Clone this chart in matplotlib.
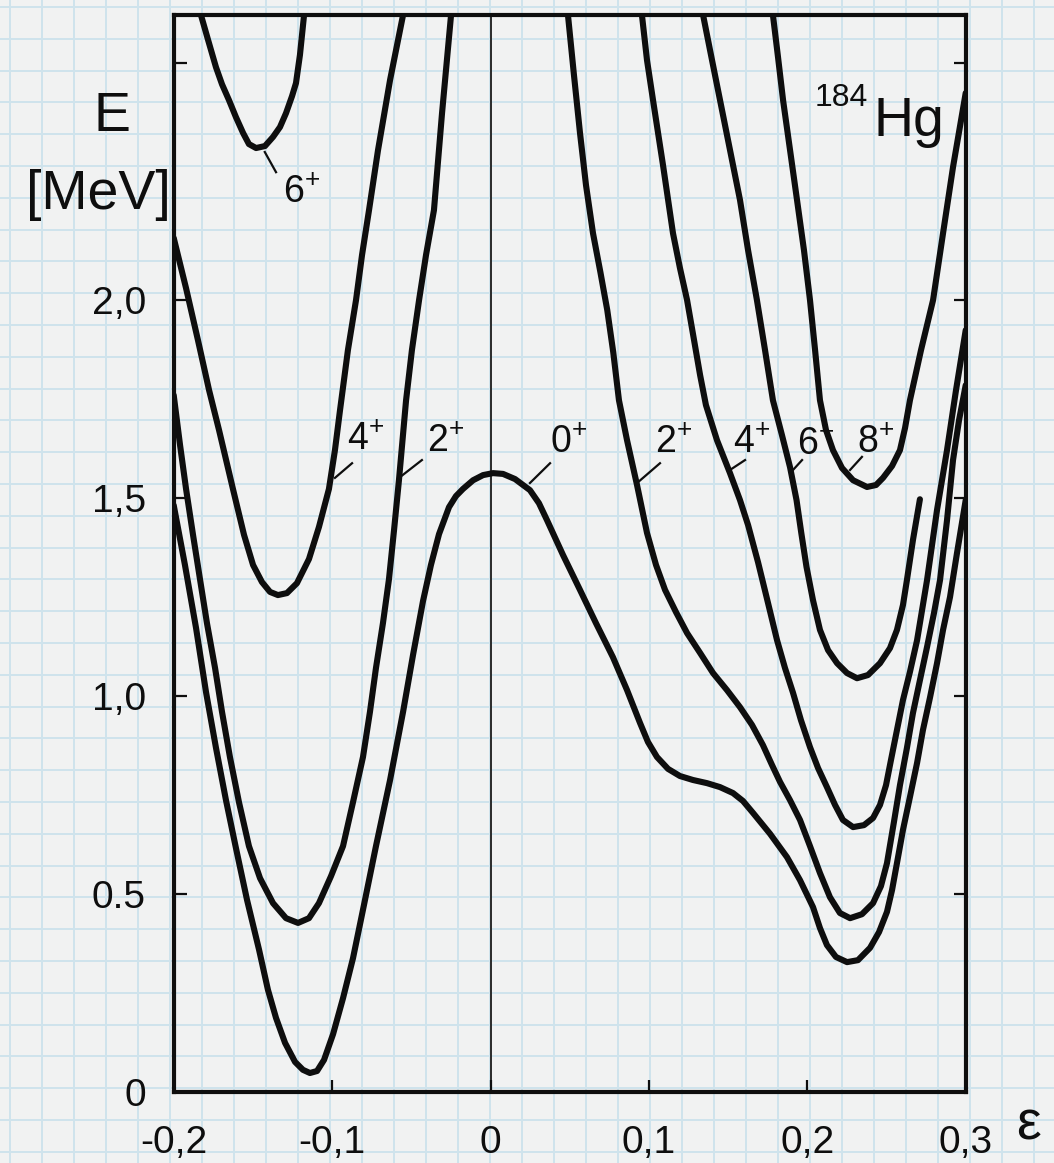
import matplotlib
matplotlib.use("Agg")
import matplotlib.pyplot as plt
import numpy as np

plt.rcParams['font.family'] = ['Liberation Sans Narrow', 'Liberation Sans', 'DejaVu Sans']
plt.rcParams['mathtext.default'] = 'regular'

# Potential energy E(eps) of 184Hg at fixed spin, against deformation eps
eps_0 = [-0.2000, -0.1929, -0.1859, -0.1796, -0.1733, -0.1670, -0.1607, -0.1537, -0.1461, -0.1405,
         -0.1354, -0.1297, -0.1234, -0.1184, -0.1140, -0.1095, -0.1051, -0.0994, -0.0931, -0.0868,
         -0.0799, -0.0723, -0.0634, -0.0552, -0.0489, -0.0426, -0.0376, -0.0325, -0.0262, -0.0218,
         -0.0174, -0.0110, -0.0047, 0.0016, 0.0079, 0.0155, 0.0249, 0.0306, 0.0357, 0.0458,
         0.0565, 0.0666, 0.0773, 0.0862, 0.0944, 0.0994, 0.1051, 0.1121, 0.1196, 0.1278,
         0.1367, 0.1449, 0.1531, 0.1594, 0.1657, 0.1765, 0.1872, 0.1954, 0.2036, 0.2080,
         0.2124, 0.2181, 0.2251, 0.2320, 0.2396, 0.2453, 0.2503, 0.2535, 0.2566, 0.2604,
         0.2648, 0.2693, 0.2730, 0.2775, 0.2819, 0.2857, 0.2901, 0.2945, 0.3000]
E_0 = [1.482, 1.331, 1.172, 1.010, 0.869, 0.737, 0.616, 0.485, 0.359, 0.258,
       0.187, 0.124, 0.076, 0.056, 0.048, 0.053, 0.081, 0.146, 0.237, 0.338,
       0.472, 0.621, 0.788, 0.960, 1.104, 1.240, 1.331, 1.409, 1.477, 1.505,
       1.523, 1.545, 1.558, 1.563, 1.561, 1.548, 1.520, 1.487, 1.444, 1.356,
       1.268, 1.184, 1.098, 1.015, 0.932, 0.884, 0.846, 0.816, 0.798, 0.788,
       0.780, 0.770, 0.755, 0.735, 0.705, 0.652, 0.593, 0.535, 0.467, 0.414,
       0.371, 0.341, 0.328, 0.333, 0.364, 0.404, 0.455, 0.510, 0.578, 0.662,
       0.745, 0.831, 0.914, 0.997, 1.083, 1.167, 1.250, 1.361, 1.495]

# spin 2+: oblate well (negative eps) and prolate well (positive eps)
eps_2_obl = [-0.2000, -0.1960, -0.1922, -0.1878, -0.1834, -0.1790, -0.1739, -0.1695, -0.1645, -0.1588,
             -0.1525, -0.1455, -0.1373, -0.1291, -0.1215, -0.1146, -0.1083, -0.1007, -0.0931, -0.0868,
             -0.0805, -0.0761, -0.0723, -0.0679, -0.0641, -0.0609, -0.0578, -0.0533, -0.0496, -0.0451,
             -0.0407, -0.0357, -0.0306, -0.0249]
E_2_obl = [1.760, 1.634, 1.523, 1.407, 1.295, 1.184, 1.071, 0.960, 0.846, 0.732,
           0.621, 0.540, 0.477, 0.439, 0.427, 0.439, 0.477, 0.545, 0.621, 0.732,
           0.846, 0.960, 1.071, 1.184, 1.295, 1.419, 1.545, 1.747, 1.874, 2.000,
           2.114, 2.227, 2.472, 2.720]
eps_2_pro = [0.0489, 0.0527, 0.0565, 0.0603, 0.0647, 0.0694, 0.0737, 0.0775, 0.0811, 0.0862,
             0.0925, 0.0988, 0.1045, 0.1102, 0.1171, 0.1241, 0.1323, 0.1405, 0.1493, 0.1575,
             0.1651, 0.1720, 0.1777, 0.1828, 0.1891, 0.1954, 0.2017, 0.2080, 0.2143, 0.2206,
             0.2270, 0.2345, 0.2415, 0.2465, 0.2503, 0.2547, 0.2585, 0.2629, 0.2667, 0.2711,
             0.2756, 0.2800, 0.2838, 0.2882, 0.2920, 0.2958, 0.3000]
E_2_pro = [2.720, 2.568, 2.422, 2.290, 2.169, 2.070, 1.975, 1.868, 1.747, 1.646,
           1.533, 1.412, 1.331, 1.268, 1.212, 1.159, 1.109, 1.058, 1.015, 0.972,
           0.927, 0.876, 0.826, 0.783, 0.737, 0.687, 0.621, 0.553, 0.492, 0.452,
           0.439, 0.449, 0.477, 0.520, 0.578, 0.682, 0.775, 0.869, 0.957, 1.040,
           1.124, 1.210, 1.293, 1.444, 1.596, 1.697, 1.785]

# spin 4+
eps_4_obl = [-0.2000, -0.1922, -0.1847, -0.1777, -0.1714, -0.1626, -0.1556, -0.1499, -0.1443, -0.1392,
             -0.1342, -0.1285, -0.1222, -0.1146, -0.1083, -0.1020, -0.0982, -0.0950, -0.0900, -0.0849,
             -0.0811, -0.0767, -0.0710, -0.0634, -0.0552]
E_4_obl = [2.157, 2.030, 1.899, 1.773, 1.672, 1.523, 1.407, 1.331, 1.288, 1.263,
           1.255, 1.260, 1.285, 1.346, 1.427, 1.523, 1.621, 1.722, 1.874, 2.000,
           2.114, 2.227, 2.379, 2.556, 2.720]
eps_4_pro = [0.0956, 0.0988, 0.1026, 0.1089, 0.1152, 0.1196, 0.1241, 0.1285, 0.1323, 0.1360,
             0.1430, 0.1512, 0.1575, 0.1626, 0.1689, 0.1752, 0.1809, 0.1859, 0.1910, 0.1960,
             0.2017, 0.2068, 0.2124, 0.2175, 0.2225, 0.2289, 0.2358, 0.2415, 0.2459, 0.2497,
             0.2528, 0.2566, 0.2604, 0.2648, 0.2693, 0.2756, 0.2819, 0.2882, 0.2939, 0.3000]
E_4_pro = [2.720, 2.606, 2.505, 2.341, 2.169, 2.081, 2.000, 1.899, 1.811, 1.735,
           1.646, 1.563, 1.495, 1.432, 1.338, 1.235, 1.141, 1.071, 1.008, 0.939,
           0.871, 0.818, 0.770, 0.725, 0.687, 0.669, 0.674, 0.692, 0.725, 0.775,
           0.838, 0.914, 0.990, 1.061, 1.141, 1.293, 1.470, 1.621, 1.773, 1.924]

# spin 6+
eps_6_obl = [-0.1828, -0.1783, -0.1733, -0.1695, -0.1651, -0.1607, -0.1562, -0.1525, -0.1480, -0.1424,
             -0.1373, -0.1329, -0.1291, -0.1253, -0.1228, -0.1203, -0.1177]
E_6_obl = [2.720, 2.657, 2.588, 2.545, 2.505, 2.462, 2.422, 2.394, 2.384, 2.389,
           2.412, 2.437, 2.472, 2.515, 2.548, 2.619, 2.720]
eps_6_pro = [0.1342, 0.1392, 0.1449, 0.1512, 0.1575, 0.1626, 0.1682, 0.1733, 0.1783, 0.1840,
             0.1891, 0.1932, 0.1962, 0.1995, 0.2036, 0.2080, 0.2131, 0.2188, 0.2251, 0.2314,
             0.2383, 0.2459, 0.2522, 0.2566, 0.2604, 0.2629, 0.2667, 0.2711]
E_6_pro = [2.720, 2.619, 2.505, 2.379, 2.253, 2.126, 2.000, 1.874, 1.747, 1.659,
           1.578, 1.495, 1.412, 1.326, 1.242, 1.167, 1.116, 1.083, 1.058, 1.045,
           1.053, 1.083, 1.121, 1.167, 1.230, 1.293, 1.394, 1.497]

# spin 8+
eps_8_pro = [0.1783, 0.1815, 0.1847, 0.1891, 0.1935, 0.1979, 0.2017, 0.2049, 0.2080, 0.2118,
             0.2162, 0.2219, 0.2289, 0.2377, 0.2434, 0.2478, 0.2535, 0.2585, 0.2617, 0.2648,
             0.2718, 0.2794, 0.2857, 0.2920, 0.3000]
E_8_pro = [2.720, 2.614, 2.505, 2.379, 2.253, 2.126, 2.000, 1.874, 1.747, 1.672,
           1.621, 1.576, 1.545, 1.528, 1.533, 1.551, 1.581, 1.621, 1.677, 1.747,
           1.874, 2.000, 2.169, 2.336, 2.523]

curves = [(eps_0, E_0), (eps_2_obl, E_2_obl), (eps_2_pro, E_2_pro),
          (eps_4_obl, E_4_obl), (eps_4_pro, E_4_pro),
          (eps_6_obl, E_6_obl), (eps_6_pro, E_6_pro), (eps_8_pro, E_8_pro)]

# Spin labels: text, leader start on the curve, leader end, text anchor
spin_labels = ["6^{+}", "4^{+}", "2^{+}", "0^{+}", "2^{+}", "4^{+}", "6^{+}", "8^{+}"]
leader_from = [(-0.1425, 2.374), (-0.0982, 1.551), (-0.0571, 1.553), (0.0249, 1.538),
               (0.0931, 1.540), (0.1512, 1.571), (0.1910, 1.571), (0.2270, 1.571)]
leader_to = [(-0.1354, 2.323), (-0.0874, 1.588), (-0.0433, 1.596), (0.0376, 1.588),
             (0.1070, 1.588), (0.1607, 1.596), (0.1967, 1.596), (0.2345, 1.604)]
text_at = [(-0.131, 2.245), (-0.0906, 1.621), (-0.0401, 1.616), (0.0376, 1.614),
           (0.1039, 1.614), (0.1531, 1.614), (0.1935, 1.609), (0.2314, 1.614)]

x_ticks = [-0.2, -0.1, 0.0, 0.1, 0.2, 0.3]
x_ticklabels = ["-0,2", "-0,1", "0", "0,1", "0,2", "0,3"]
y_ticks = [0.0, 0.5, 1.0, 1.5, 2.0, 2.6]
y_ticklabels = ["0", "0.5", "1,0", "1,5", "2,0", ""]

W, H = 1054, 1163
paper = '#f1f2f2'
ink = '#0e0e0e'
fig = plt.figure(figsize=(W / 100, H / 100), dpi=100, facecolor=paper)

# graph paper background
bg = fig.add_axes([0, 0, 1, 1], zorder=-10)
bg.set_xlim(0, W)
bg.set_ylim(H, 0)
bg.axis('off')
for gx in np.arange(9.5, W, 32.0):
    bg.axvline(gx, color='#cfe3ec', lw=1.4)
for gy in np.arange(7.0, H, 31.8):
    bg.axhline(gy, color='#cfe3ec', lw=1.4)

ax = fig.add_axes([173.7 / W, 1 - 1092 / H, 792 / W, (1092 - 15) / H])
ax.set_facecolor('none')
ax.set_xlim(-0.2, 0.3)
ax.set_ylim(0, 2.72)

ax.axvline(0.0, color='#2a2a2a', lw=1.4, zorder=1)

for xs, ys in curves:
    ax.plot(xs, ys, color=ink, lw=4.4, solid_joinstyle='round',
            solid_capstyle='round', zorder=3)

for lab, p0, p1, pt in zip(spin_labels, leader_from, leader_to, text_at):
    ax.plot([p0[0], p1[0]], [p0[1], p1[1]], color=ink, lw=1.6, zorder=3)
    ax.text(pt[0], pt[1], "$" + lab + "$", fontsize=27, color=ink,
            ha='left', va='baseline', zorder=4)

ax.set_xticks(x_ticks)
ax.set_xticklabels(x_ticklabels)
ax.set_yticks(y_ticks)
ax.set_yticklabels(y_ticklabels)
ax.tick_params(axis='both', direction='in', length=9, width=1.6, colors=ink,
               labelsize=28)
ax.tick_params(axis='x', pad=24, top=False)
ax.tick_params(axis='y', pad=20, right=True)
for s in ax.spines.values():
    s.set_linewidth(3.0)
    s.set_color(ink)

fig.text(112 / W, 1 - 117 / H, "E", fontsize=40, color=ink, ha='center', va='center')
fig.text(98 / W, 1 - 195 / H, "[MeV]", fontsize=40, color=ink, ha='center', va='center')
fig.text(815 / W, 1 - 106 / H, "184", fontsize=23, color=ink, ha='left', va='baseline')
fig.text(874 / W, 1 - 136 / H, "Hg", fontsize=40, color=ink, ha='left', va='baseline')
fig.text(1028 / W, 1 - 1126 / H, "ε", fontsize=40, color=ink, ha='center', va='center')

fig.savefig("out.png", dpi=100, facecolor=paper)
